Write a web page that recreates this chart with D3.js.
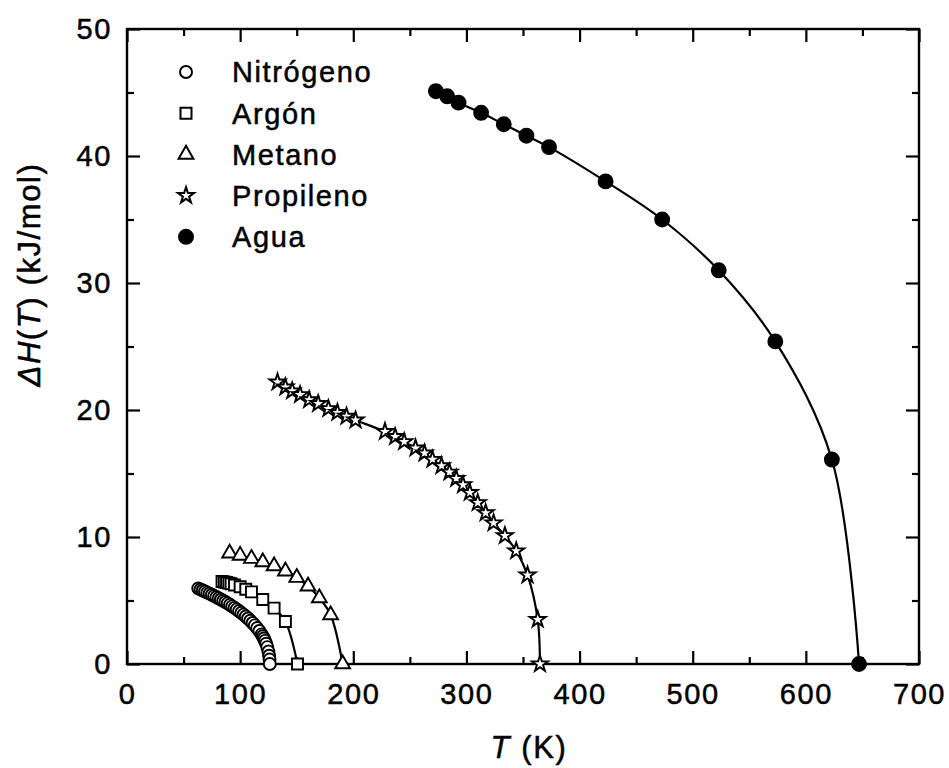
<!DOCTYPE html>
<html>
<head>
<meta charset="utf-8">
<script src="https://cdn.jsdelivr.net/npm/d3@7"></script>
<style>
  html, body { margin: 0; padding: 0; background: #fff; }
  svg { display: block; }
  text { font-family: "Liberation Sans", Arial, Helvetica, sans-serif; fill: #000; stroke: #000; stroke-width: 0.5px; }
</style>
</head>
<body>
<svg id="chart" width="949" height="768"></svg>
<script>
// ---------- data ----------
const xTicks = [0, 100, 200, 300, 400, 500, 600, 700];
const xMinor = [50, 150, 250, 350, 450, 550, 650];
const yTicks = [0, 10, 20, 30, 40, 50];
const yMinor = [5, 15, 25, 35, 45];

const seriesNames = ["Nitrógeno", "Argón", "Metano", "Propileno", "Agua"];

const nitrogenT = [63, 65, 67, 69, 71, 73, 75, 77, 79, 81, 83, 85, 87, 89, 91, 93, 95, 97, 99, 101, 103, 105, 107, 109, 111, 113, 115, 117, 119, 120, 121, 122, 123, 124, 125, 125.6, 126, 126.2];
const nitrogenH = [5.95, 5.87, 5.79, 5.71, 5.62, 5.54, 5.45, 5.36, 5.27, 5.18, 5.08, 4.98, 4.88, 4.77, 4.66, 4.54, 4.42, 4.30, 4.17, 4.03, 3.89, 3.74, 3.58, 3.41, 3.23, 3.04, 2.83, 2.60, 2.33, 2.18, 2.01, 1.82, 1.60, 1.33, 0.98, 0.65, 0.35, 0];

const argonT = [84, 86, 88, 90, 92, 95, 100, 105, 110, 120, 130, 140, 150.7];
const argonH = [6.5, 6.46, 6.42, 6.37, 6.32, 6.22, 6.08, 5.88, 5.68, 5.08, 4.4, 3.35, 0];

const methaneT = [90.7, 100, 110, 120, 130, 140, 150, 160, 170, 180, 190.6];
const methaneH = [8.72, 8.55, 8.3, 8.03, 7.72, 7.3, 6.8, 6.12, 5.2, 3.86, 0];

const propyleneT = [133, 140, 146, 153, 161, 169, 178, 186, 194, 202, 228, 237, 245, 255, 263, 270, 278, 285, 291, 297, 303, 310, 317, 324, 334, 344, 354, 363, 365];
const propyleneH = [22.2, 21.8, 21.5, 21.2, 20.8, 20.5, 20.1, 19.8, 19.5, 19.2, 18.3, 17.9, 17.5, 17.0, 16.6, 16.1, 15.6, 15.1, 14.6, 14.1, 13.5, 12.7, 11.9, 11.1, 10.1, 8.9, 7.0, 3.5, 0];

const waterT = [273, 283, 293, 313, 333, 353, 373, 423, 473, 523, 573, 623, 647];
const waterH = [45.1, 44.7, 44.2, 43.4, 42.5, 41.6, 40.7, 38.0, 35.0, 31.0, 25.4, 16.1, 0];

(function () {
// ---------- layout ----------
const svg = d3.select("#chart");
const pL = 127, pR = 919, pT = 29, pB = 664;
const x = d3.scaleLinear().domain([0, 700]).range([pL, pR]);
const y = d3.scaleLinear().domain([0, 50]).range([pB, pT]);

const FONT = 29, LS = 1.6;

const series = [
  { name: seriesNames[0], T: nitrogenT, H: nitrogenH, type: "circle" },
  { name: seriesNames[1], T: argonT, H: argonH, type: "square" },
  { name: seriesNames[2], T: methaneT, H: methaneH, type: "triangle" },
  { name: seriesNames[3], T: propyleneT, H: propyleneH, type: "star" },
  { name: seriesNames[4], T: waterT, H: waterH, type: "dot" }
];

const symGen = {
  circle: d3.symbol().type(d3.symbolCircle).size(Math.PI * 6 * 6),
  square: d3.symbol().type(d3.symbolSquare).size(121),
  triangle: d3.symbol().type(d3.symbolTriangle).size(95),
  star: d3.symbol().type(d3.symbolStar).size(80),
  dot: d3.symbol().type(d3.symbolCircle).size(Math.PI * 7 * 7)
};

// ---------- axes ----------
function styleAxis(g) {
  g.select(".domain").remove();
  g.selectAll(".tick line").attr("stroke", "#000").attr("stroke-width", 2.2);
}
const axB = svg.append("g").attr("transform", `translate(0,${pB})`)
  .call(d3.axisBottom(x).tickValues(xTicks).tickSize(-13).tickPadding(19).tickFormat(d3.format("d")));
styleAxis(axB);
axB.selectAll("text").attr("font-size", FONT).attr("letter-spacing", LS).attr("font-family", "Liberation Sans, Arial, sans-serif").attr("dy", "0.71em");
svg.append("g").attr("transform", `translate(0,${pB})`)
  .call(d3.axisBottom(x).tickValues(xMinor).tickSize(-7).tickFormat("")).call(styleAxis);
svg.append("g").attr("transform", `translate(0,${pT})`)
  .call(d3.axisTop(x).tickValues(xTicks).tickSize(-13).tickFormat("")).call(styleAxis);
svg.append("g").attr("transform", `translate(0,${pT})`)
  .call(d3.axisTop(x).tickValues(xMinor).tickSize(-7).tickFormat("")).call(styleAxis);

const axL = svg.append("g").attr("transform", `translate(${pL},0)`)
  .call(d3.axisLeft(y).tickValues(yTicks).tickSize(-13).tickPadding(15).tickFormat(d3.format("d")));
styleAxis(axL);
axL.selectAll("text").attr("font-size", FONT).attr("letter-spacing", LS).attr("font-family", "Liberation Sans, Arial, sans-serif");
svg.append("g").attr("transform", `translate(${pL},0)`)
  .call(d3.axisLeft(y).tickValues(yMinor).tickSize(-7).tickFormat("")).call(styleAxis);
svg.append("g").attr("transform", `translate(${pR},0)`)
  .call(d3.axisRight(y).tickValues(yTicks).tickSize(-13).tickFormat("")).call(styleAxis);
svg.append("g").attr("transform", `translate(${pR},0)`)
  .call(d3.axisRight(y).tickValues(yMinor).tickSize(-7).tickFormat("")).call(styleAxis);

// frame
svg.append("rect").attr("x", pL).attr("y", pT)
  .attr("width", pR - pL).attr("height", pB - pT)
  .attr("fill", "none").attr("stroke", "#000").attr("stroke-width", 2.4);

// ---------- curves & markers ----------
const line = d3.line().x(d => x(d[0])).y(d => y(d[1])).curve(d3.curveCatmullRom.alpha(0.5));
series.forEach(s => {
  const pts = s.T.map((t, i) => [t, s.H[i]]);
  svg.append("path").datum(pts).attr("d", line)
    .attr("fill", "none").attr("stroke", "#000").attr("stroke-width", 2.2);
  svg.append("g").selectAll("path").data(pts).join("path")
    .attr("transform", d => `translate(${x(d[0])},${y(d[1])})`)
    .attr("d", symGen[s.type])
    .attr("fill", s.type === "dot" ? "#000" : "#fff")
    .attr("stroke", "#000").attr("stroke-width", 1.9);
});

// ---------- legend ----------
const legend = svg.append("g");
series.forEach((s, i) => {
  const cy = 72 + i * 41.2;
  legend.append("path").attr("transform", `translate(186,${cy})`)
    .attr("d", symGen[s.type])
    .attr("fill", s.type === "dot" ? "#000" : "#fff")
    .attr("stroke", "#000").attr("stroke-width", 2);
  legend.append("text").attr("x", 232).attr("y", cy).attr("dy", "0.36em")
    .attr("font-size", FONT).attr("letter-spacing", LS).text(s.name);
});

// ---------- axis titles ----------
const xt = svg.append("text").attr("x", (pL + pR) / 2 + 6).attr("y", 758)
  .attr("text-anchor", "middle").attr("font-size", 31).attr("letter-spacing", LS);
xt.append("tspan").attr("font-style", "italic").text("T");
xt.append("tspan").text(" (K)");

const yt = svg.append("text")
  .attr("transform", `translate(40,${(pT + pB) / 2 - 72}) rotate(-90)`)
  .attr("text-anchor", "middle").attr("font-size", 31).attr("letter-spacing", LS);
yt.append("tspan").attr("font-style", "italic").text("ΔH");
yt.append("tspan").text("(");
yt.append("tspan").attr("font-style", "italic").text("T");
yt.append("tspan").text(") (kJ/mol)");
})();
</script>
</body>
</html>
